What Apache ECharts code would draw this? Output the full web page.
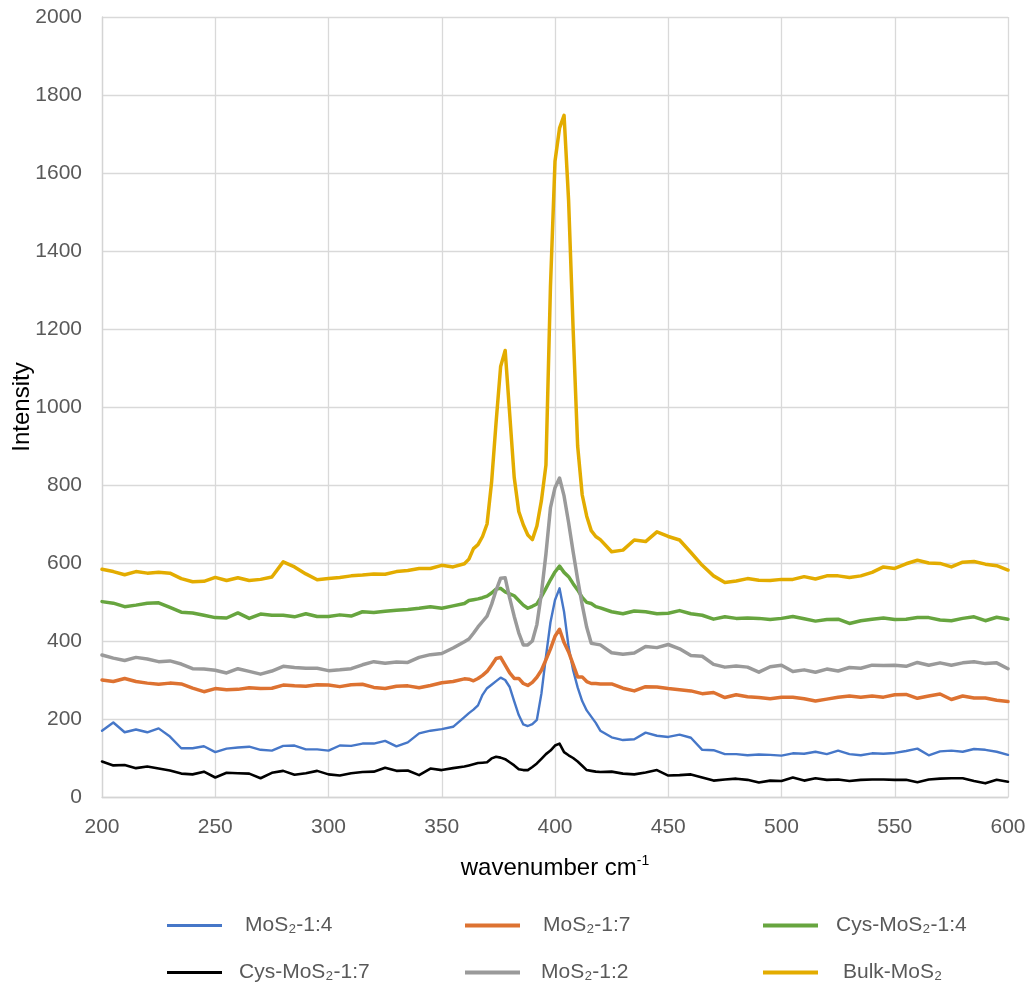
<!DOCTYPE html>
<html>
<head>
<meta charset="utf-8">
<title>Raman spectra</title>
<script src="https://cdn.jsdelivr.net/npm/echarts@6/dist/echarts.min.js"></script>
<style>
  html, body { margin: 0; padding: 0; background: #ffffff; }
  #chart { width: 1029px; height: 994px; }
</style>
</head>
<body>
<div id="chart"></div>
<script>
// Raman shift (cm-1), shared by every spectrum
const wavenumber = [
  200, 205, 210, 215, 220, 225, 230, 235, 240, 245, 250, 255, 260, 265, 270, 275, 280, 285, 290, 295,
  300, 305, 310, 315, 320, 325, 330, 335, 340, 345, 350, 355, 360,
  362, 364, 366, 368, 370, 372, 374, 376, 378, 380, 382, 384, 386, 388, 390, 392, 394, 396, 398,
  400, 402, 404, 406, 408, 410, 412, 414, 416, 418, 420,
  425, 430, 435, 440, 445, 450, 455, 460, 465, 470, 475, 480, 485, 490, 495, 500, 505, 510, 515, 520,
  525, 530, 535, 540, 545, 550, 555, 560, 565, 570, 575, 580, 585, 590, 595, 600
];

// Intensities (a.u.)
const mos2_1_4 = [
  170, 191, 166, 173, 166, 176, 155, 125, 125, 130, 115, 124, 127, 129, 121, 119, 131, 132, 122, 122,
  119, 132, 131, 137, 137, 144, 130, 140, 163, 170, 174, 180, 205,
  215, 224, 235, 262, 279, 288, 297, 306, 300, 282, 245, 210, 186, 182, 187, 198, 265, 360, 448,
  505, 535, 475, 385, 325, 281, 246, 222, 206, 190, 170,
  153, 146, 148, 165, 157, 154, 160, 152, 121, 120, 110, 110, 107, 109, 108, 106, 112, 111, 116, 110,
  119, 110, 107, 112, 111, 113, 118, 124, 107, 117, 119, 116, 123, 121, 116, 108
];
const mos2_1_7 = [
  300, 296, 304, 296, 292, 289, 292, 290, 279, 270, 278, 275, 276, 280, 278, 279, 287, 285, 284, 288,
  287, 283, 288, 289, 281, 278, 284, 285, 280, 286, 293, 296, 303,
  302, 298, 304, 312, 322, 338, 355, 358, 338, 318, 304, 304, 291, 286, 294, 307, 325, 352, 380,
  412, 430, 396, 372, 340, 308, 308, 296, 291, 291, 290,
  290, 279, 272, 283, 282, 278, 275, 272, 265, 268, 255, 262, 257, 255, 252, 256, 256, 252, 246, 251,
  256, 259, 256, 259, 256, 262, 263, 253, 259, 264, 250, 259, 254, 254, 248, 245
];
const cys_mos2_1_4 = [
  501, 497, 488, 492, 497, 498, 486, 474, 472, 466, 460, 459, 472, 458, 469, 466, 466, 462, 470, 463,
  463, 467, 464, 475, 473, 476, 479, 481, 484, 488, 484, 490, 496,
  504, 506, 508, 511, 515, 523, 533, 535, 526, 521, 516, 504, 492, 484, 489, 495, 514, 535, 557,
  577, 592, 576, 565, 547, 531, 512, 499, 496, 488, 485,
  475, 470, 477, 475, 470, 471, 478, 470, 466, 456, 462, 458, 459, 458, 455, 458, 463, 457, 451, 455,
  456, 445, 452, 456, 459, 455, 456, 460, 460, 454, 452, 458, 462, 452, 461, 456
];
const cys_mos2_1_7 = [
  91, 81, 82, 74, 78, 73, 68, 60, 58, 65, 50, 62, 61, 60, 48, 62, 67, 57, 61, 67,
  58, 55, 61, 64, 65, 75, 67, 68, 56, 73, 69, 74, 78,
  81, 84, 87, 88, 89, 99, 103, 101, 97, 89, 81, 71, 69, 69, 77, 86, 98, 110, 119,
  132, 137, 115, 107, 100, 91, 80, 69, 67, 65, 64,
  65, 60, 58, 63, 69, 55, 56, 58, 50, 42, 45, 47, 44, 37, 42, 41, 50, 42, 48, 44,
  45, 41, 44, 45, 45, 44, 44, 38, 45, 47, 48, 48, 41, 35, 44, 39
];
const mos2_1_2 = [
  364, 356, 350, 358, 354, 347, 349, 341, 329, 328, 325, 318, 329, 322, 315, 323, 335, 332, 330, 330,
  324, 326, 329, 339, 347, 343, 346, 345, 358, 365, 368, 382, 398,
  405, 420, 436, 450, 464, 494, 530, 561, 562, 510, 463, 421, 390, 390, 400, 442, 522, 623, 742,
  793, 818, 772, 704, 629, 558, 493, 435, 394, 392, 390,
  370, 366, 369, 386, 383, 391, 380, 363, 361, 340, 333, 336, 333, 320, 334, 338, 322, 326, 320, 328,
  323, 332, 330, 338, 337, 338, 335, 345, 338, 344, 338, 344, 347, 342, 344, 329
];
const bulk_mos2 = [
  584, 578, 570, 578, 574, 576, 574, 560, 552, 553, 563, 555, 562, 555, 558, 564, 603, 590, 572, 557,
  560, 563, 567, 569, 572, 571, 578, 581, 586, 586, 594, 590, 598,
  610, 637, 647, 668, 700, 807, 961, 1104, 1145, 982, 819, 732, 698, 672, 660, 695, 760, 851, 1310,
  1630, 1715, 1748, 1530, 1200, 900, 775, 720, 683, 668, 660,
  629, 633, 659, 655, 680, 668, 659, 627, 594, 567, 550, 554, 560, 556, 555, 558, 558, 565, 559, 567,
  567, 563, 567, 576, 590, 586, 598, 607, 600, 599, 590, 602, 604, 597, 593, 582
];

// Series names, colours and legend placement
const seriesNames = ['MoS\u2082-1:4', 'MoS\u2082-1:7', 'Cys-MoS\u2082-1:4', 'Cys-MoS\u2082-1:7', 'MoS\u2082-1:2', 'Bulk-MoS\u2082'];
const seriesValues = [mos2_1_4, mos2_1_7, cys_mos2_1_4, cys_mos2_1_7, mos2_1_2, bulk_mos2];
const seriesColors = ['#4677C8', '#DD7231', '#67A53F', '#000000', '#9A9A9A', '#E3AC00'];
const lineWidths = [2.4, 3.5, 3.5, 2.6, 3.5, 3.5];

const legendPos = [
  { left: 167, top: 915, pad: 18 },
  { left: 465, top: 915, pad: 18 },
  { left: 763, top: 915, pad: 13 },
  { left: 167, top: 962, pad: 12 },
  { left: 465, top: 962, pad: 16 },
  { left: 763, top: 962, pad: 20 }
];

const FONT = '"Liberation Sans", Arial, sans-serif';

const chart = echarts.init(document.getElementById('chart'), null, { renderer: 'canvas' });

const series = seriesNames.map((name, k) => ({
  name: name,
  type: 'line',
  data: wavenumber.map((w, i) => [w, seriesValues[k][i]]),
  showSymbol: false,
  symbol: 'none',
  smooth: false,
  color: seriesColors[k],
  lineStyle: { width: lineWidths[k], color: seriesColors[k], join: 'round', cap: 'round' },
  emphasis: { disabled: true },
  z: 2 + k
}));

const legends = seriesNames.map((name, k) => ({
  data: [{ name: name, icon: 'rect' }],
  left: legendPos[k].left,
  top: legendPos[k].top,
  padding: 0,
  itemWidth: 55,
  itemHeight: lineWidths[k] + 0.5,
  selectedMode: false,
  textStyle: {
    fontFamily: FONT,
    fontSize: 21,
    color: '#595959',
    padding: [0, 0, 0, legendPos[k].pad]
  }
}));

const plainNumber = v => String(v);

chart.setOption({
  animation: false,
  backgroundColor: '#ffffff',
  grid: { left: 102, right: 21, top: 17, bottom: 197, containLabel: false, outerBoundsMode: 'none' },
  legend: legends,
  xAxis: {
    type: 'value',
    min: 200,
    max: 600,
    interval: 50,
    name: '{a|wavenumber cm}{b|-1}',
    nameLocation: 'middle',
    nameGap: 57,
    nameMoveOverlap: false,
    nameTextStyle: {
      rich: {
        a: { fontFamily: FONT, fontSize: 24, color: '#000000', lineHeight: 28 },
        b: { fontFamily: FONT, fontSize: 14, color: '#000000', lineHeight: 14, verticalAlign: 'top' }
      }
    },
    axisLine: { show: true, lineStyle: { color: '#D4D4D4', width: 1.3 } },
    axisTick: { show: false },
    axisLabel: { fontFamily: FONT, fontSize: 21, color: '#595959', margin: 20, formatter: plainNumber },
    splitLine: { show: true, lineStyle: { color: '#D9D9D9', width: 1.3 } }
  },
  yAxis: {
    type: 'value',
    min: 0,
    max: 2000,
    interval: 200,
    name: 'Intensity',
    nameLocation: 'middle',
    nameGap: 68,
    nameMoveOverlap: false,
    nameTextStyle: { fontFamily: FONT, fontSize: 24, color: '#000000' },
    axisLine: { show: true, lineStyle: { color: '#D4D4D4', width: 1.3 } },
    axisTick: { show: false },
    axisLabel: { fontFamily: FONT, fontSize: 21, color: '#595959', margin: 20, formatter: plainNumber },
    splitLine: { show: true, lineStyle: { color: '#D9D9D9', width: 1.3 } }
  },
  series: series
});
</script>
</body>
</html>
